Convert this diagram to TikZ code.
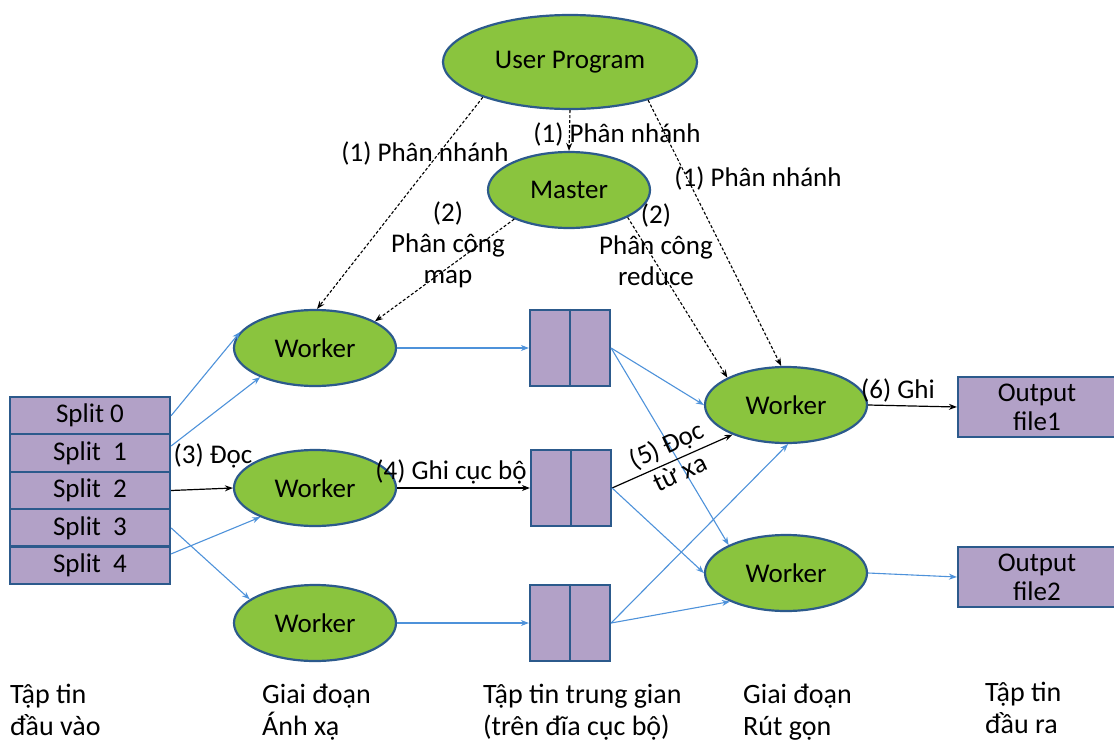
\documentclass[tikz,border=0pt]{standalone}
\usepackage{fontspec}
\setmainfont{Carlito}
\usetikzlibrary{shapes.geometric,arrows.meta,calc}
\definecolor{gfill}{RGB}{138,196,62}
\definecolor{bord}{RGB}{44,90,140}
\definecolor{pfill}{RGB}{178,161,199}
\definecolor{barrow}{RGB}{78,146,218}
\begin{document}
\begin{tikzpicture}[x=1pt,y=-1pt,
  every node/.style={font=\fontsize{27}{31}\selectfont},
  proc/.style={ellipse, draw=bord, line width=2.2pt, fill=gfill, inner sep=0pt, minimum width=162pt, minimum height=76pt},
  splitbox/.style={rectangle, draw=bord, line width=2.2pt, fill=pfill, minimum width=160pt, minimum height=37.5pt, inner sep=0pt},
  midbox/.style={rectangle, draw=bord, line width=2.2pt, fill=pfill, minimum width=80pt, minimum height=76pt, inner sep=0pt},
  outbox/.style={rectangle, draw=bord, line width=2.2pt, fill=pfill, minimum width=158pt, minimum height=60pt, inner sep=0pt, align=center, font=\fontsize{27}{29}\selectfont},
  lbl/.style={inner sep=1pt, align=center},
  blk/.style={-{Stealth[length=8pt,width=6pt]}, line width=1.2pt, black},
  dsh/.style={-{Stealth[length=8pt,width=6pt]}, line width=1.1pt, black, densely dashed},
  blu/.style={-{Stealth[length=8pt,width=6pt]}, line width=1.1pt, barrow},
  bottom/.style={anchor=north west, align=left, inner sep=0pt, font=\fontsize{28}{32}\selectfont}
]
\useasboundingbox (0,0) rectangle (1114,742);

% ellipses
\node[proc, minimum width=254pt, minimum height=94pt] (up) at (570,62) {User Program};
\node[proc] (m) at (569,190) {Master};
\node[proc] (w1) at (315,348) {Worker};
\node[proc] (w2) at (315,488) {Worker};
\node[proc] (w3) at (315,623) {Worker};
\node[proc] (r1) at (786,405) {Worker};
\node[proc] (r2) at (786,573) {Worker};

% splits
\node[splitbox] (s0) at (90,415.7) {Split 0};
\node[splitbox] (s1) at (90,453.1) {Split\ \ 1};
\node[splitbox] (s2) at (90,490.5) {Split\ \ 2};
\node[splitbox] (s3) at (90,527.9) {Split\ \ 3};
\node[splitbox] (s4) at (90,565.3) {Split\ \ 4};

% intermediate boxes
\node[midbox] (b1) at (570,348) {};
\node[midbox] (b2) at (571,488) {};
\node[midbox] (b3) at (570,623) {};
\foreach \b in {b1,b2,b3}{\draw[bord, line width=2.2pt] (\b.north) -- (\b.south);}

% outputs
\node[outbox] (o1) at (1037,407) {Output\\file1};
\node[outbox] (o2) at (1037,577) {Output\\file2};

% dashed control arrows
\draw[dsh] (up.202) -- (w1.87);
\draw[dsh] (up.south) -- (m.north);
\draw[dsh] (up.334) -- (r1.97);
\draw[dsh] (m.208) -- (w1.24);
\draw[dsh] (m.335) -- (r1.155);

% input arrows
\draw[blu] (s0.east) -- (w1.168);
\draw[blu] (s1.5) -- (w1.208);
\draw[blk] (s2.east) -- (w2.west);
\draw[blu] (s4.8) -- (w2.208);
\draw[blu] (s3.east) -- (w3.160);

% map to intermediate
\draw[blu] (w1.east) -- (b1.west);
\draw[blk] (w2.east) -- (b2.west);
\draw[blu] (w3.east) -- (b3.west);

% intermediate to reduce
\draw[blu] (b1.east) -- (r1.west);
\draw[blu] (b1.east) -- (r2.154);
\draw[blk] (b2.east) -- (r1.209);
\draw[blu] (b2.east) -- (r2.west);
\draw[blu] (b3.east) -- (r1.273);
\draw[blu] (b3.east) -- (r2.207);

% outputs
\draw[blk] (r1.east) -- (o1.west);
\draw[blu] (r2.east) -- (o2.west);

% labels
\node[lbl] (l1a) at (425,153) {(1) Phân nhánh};
\node[lbl] (l1b) at (617,134) {(1) Phân nhánh};
\node[lbl] (l1c) at (758,178) {(1) Phân nhánh};
\node[lbl] (l2a) at (448,245) {(2)\\Phân công\\map};
\node[lbl] (l2b) at (656,245) {(2)\\Phân công\\reduce};
\node[lbl] (l3) at (213,456) {(3) Đọc};
\node[lbl] (l4) at (451,472) {(4) Ghi cục bộ};
\node[lbl, rotate=25] (l5) at (673,458) {(5) Đọc\\từ xa};
\node[lbl] (l6) at (898,390) {(6) Ghi};

% bottom captions
\node[bottom] (c1) at (10,684) {Tập tin\\đầu vào};
\node[bottom] (c2) at (262,684) {Giai đoạn\\Ánh xạ};
\node[bottom] (c3) at (483,684) {Tập tin trung gian\\(trên đĩa cục bộ)};
\node[bottom] (c4) at (743,684) {Giai đoạn\\Rút gọn};
\node[bottom] (c5) at (985,682) {Tập tin\\đầu ra};
\end{tikzpicture}
\end{document}
